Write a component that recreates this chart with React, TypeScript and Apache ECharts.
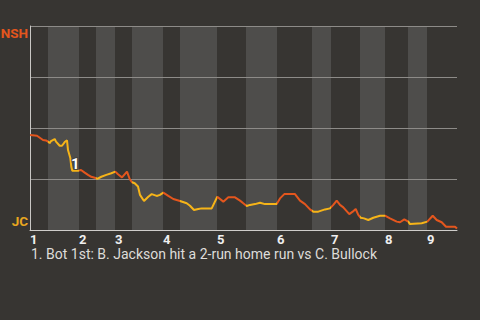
import React, { useEffect, useRef } from "react";
import * as echarts from "echarts";

// Half-inning boundaries on the event axis
const inningStarts = [0, 49, 85, 133, 187, 247, 301, 355, 397];
const bottomStarts = [18, 66, 102, 150, 216, 282, 330, 378];
const gameEnd = 427;
const inningLabels = ["1", "2", "3", "4", "5", "6", "7", "8", "9"];

// Win probability trace (event position, NSH win probability %)
const eventPos = [
  0, 7, 13, 16, 18, 19.7, 21, 24.7, 26, 29.7, 32, 34.7, 37, 38, 40.3, 41.3, 42.3, 48.7,
  51, 54.7, 58, 61.3, 64.7, 67.3, 71.3, 76.3, 81.3, 85.3, 88, 92, 97, 99.7, 102, 104.7,
  108, 110, 114, 118.3, 121.7, 126.7, 130, 133.3, 138.3, 143.3, 150, 156.7, 160, 164,
  168.3, 171.7, 181.7, 187.3, 193.3, 198.3, 205, 210, 213.3, 216.7, 220, 225, 230, 235,
  246.7, 250, 254.3, 265, 270, 275, 280, 283.3, 288.3, 295, 300, 303.3, 306.7, 310,
  313.3, 319.3, 322.7, 325.7, 328.3, 330.7, 334, 338.3, 343.3, 350, 355, 360, 366.7,
  370, 374.3, 378.3, 380, 391.7, 397.3, 402.7, 406.7, 411.7, 416, 425, 427,
];
const nshWinPct = [
  46.6, 46.2, 44.1, 43.9, 43.3, 42.6, 43.6, 44.6, 43.3, 41.3, 41.3, 43.1, 44.0, 39.2, 35.3, 31.0, 29.1, 29.1,
  29.4, 28.1, 27.0, 26.1, 25.6, 25.1, 26.1, 27.0, 27.8, 28.6, 27.3, 25.8, 28.6, 25.0, 23.4, 22.9,
  21.3, 17.2, 14.2, 16.3, 17.6, 16.7, 17.2, 18.3, 16.7, 15.2, 14.2, 13.1, 11.9, 9.8,
  10.3, 10.6, 10.6, 16.3, 13.9, 16.0, 16.0, 14.4, 13.1, 11.8, 12.3, 12.7, 13.4, 12.7,
  12.7, 15.5, 17.6, 17.6, 14.4, 12.7, 10.1, 9.0, 9.0, 10.1, 10.6, 12.3, 14.4, 12.3,
  11.1, 7.8, 9.0, 10.3, 7.4, 6.0, 5.7, 4.9, 6.0, 7.0, 7.0, 5.7, 4.1,
  3.8, 5.2, 4.1, 2.9, 3.3, 4.1, 7.0, 4.9, 3.8, 1.6, 1.6, 0.7,
];

// Annotation
const noteIndex = 17;
const noteMark = "1";
const footnote = "1. Bot 1st: B. Jackson hit a 2-run home run vs C. Bullock";

const awayTeam = "NSH";
const homeTeam = "JC";

const ORANGE = "#e4561d";
const YELLOW = "#f6b418";
const BG = "#373532";
const BAND = "#4e4d4b";
const TEAM_FONT = "Roboto, sans-serif";

export default function App() {
  const ref = useRef<HTMLDivElement>(null);
  useEffect(() => {
    if (!ref.current) return;
    const chart = echarts.init(ref.current, null, { renderer: "svg" });
    const data = eventPos.map((x, i) => [x, nshWinPct[i]]);
    const pieces: any[] = [];
    inningStarts.forEach((s, i) => {
      const b = bottomStarts[i];
      if (b !== undefined) {
        pieces.push({ gte: s, lt: b, color: ORANGE });
        const next = inningStarts[i + 1] !== undefined ? inningStarts[i + 1] : gameEnd + 1;
        pieces.push({ gte: b, lt: next, color: YELLOW });
      } else {
        pieces.push({ gte: s, lte: gameEnd + 1, color: ORANGE });
      }
    });
    const bands = bottomStarts.map((b, i) => [
      { xAxis: b },
      { xAxis: inningStarts[i + 1] !== undefined ? inningStarts[i + 1] : gameEnd },
    ]);
    chart.setOption({
      animation: false,
      backgroundColor: BG,
      grid: {
        left: 30,
        right: 23,
        top: 26,
        bottom: 90,
        containLabel: false,
        outerBoundsMode: "none",
      },
      title: {
        text: footnote,
        left: 31,
        top: 247,
        padding: 0,
        textStyle: {
          color: "#dedcd9",
          fontSize: 14,
          lineHeight: 14,
          fontWeight: "normal",
          fontFamily: "Roboto, sans-serif",
        },
      },
      xAxis: {
        type: "value",
        min: 0,
        max: gameEnd,
        z: 1,
        splitLine: { show: false },
        axisTick: { show: false },
        axisLine: { show: true, onZero: false, lineStyle: { color: "#cfcdca", width: 1 } },
        axisLabel: {
          customValues: inningStarts,
          showMinLabel: true,
          showMaxLabel: true,
          align: "left",
          margin: 3,
          lineHeight: 13,
          color: "#efefef",
          fontWeight: "bold",
          fontSize: 13,
          fontFamily: "Roboto, sans-serif",
          formatter: (v: number) => {
            const i = inningStarts.indexOf(Math.round(v));
            return i >= 0 ? inningLabels[i] : "";
          },
        },
      },
      yAxis: {
        type: "value",
        min: 0,
        max: 100,
        interval: 25,
        z: 1,
        axisTick: { show: false },
        axisLine: { show: true, lineStyle: { color: "#c9c7c4", width: 1 } },
        splitLine: { show: true, lineStyle: { color: "#8d8b88", width: 1 } },
        axisLabel: {
          margin: 2,
          formatter: (v: number) =>
            v === 100 ? `{away|${awayTeam}}` : v === 0 ? `{home|${homeTeam}}` : "",
          rich: {
            away: {
              color: ORANGE,
              fontSize: 13.5,
              fontWeight: "bold",
              fontFamily: TEAM_FONT,
              padding: [14, 0, 0, 0],
            },
            home: {
              color: "#e8a620",
              fontSize: 13.5,
              fontWeight: "bold",
              fontFamily: TEAM_FONT,
              padding: [0, 0, 18, 0],
            },
          },
        },
      },
      visualMap: {
        type: "piecewise",
        show: false,
        dimension: 0,
        seriesIndex: 1,
        pieces,
      },
      series: [
        {
          type: "line",
          data: [],
          z: 0,
          silent: true,
          markArea: {
            silent: true,
            z: 0,
            itemStyle: { color: BAND },
            data: bands,
          },
        },
        {
          type: "line",
          data,
          z: 3,
          symbol: "none",
          lineStyle: { width: 2 },
          markPoint: {
            symbol: "circle",
            symbolSize: 0,
            silent: true,
            z: 4,
            data: [
              {
                coord: data[noteIndex - 1],
                value: noteMark,
                label: {
                  show: true,
                  position: "top",
                  distance: 0,
                  offset: [3, 1],
                  formatter: noteMark,
                  color: "#ffffff",
                  fontWeight: "bold",
                  fontSize: 15,
                  fontFamily: "Roboto, sans-serif",
                  textBorderColor: "rgba(60,58,55,0.6)",
                  textBorderWidth: 2,
                },
              },
            ],
          },
        },
      ],
    });
    return () => chart.dispose();
  }, []);
  return (
    <div
      ref={ref}
      style={{ position: "fixed", left: 0, top: 0, width: 480, height: 320 }}
    />
  );
}
